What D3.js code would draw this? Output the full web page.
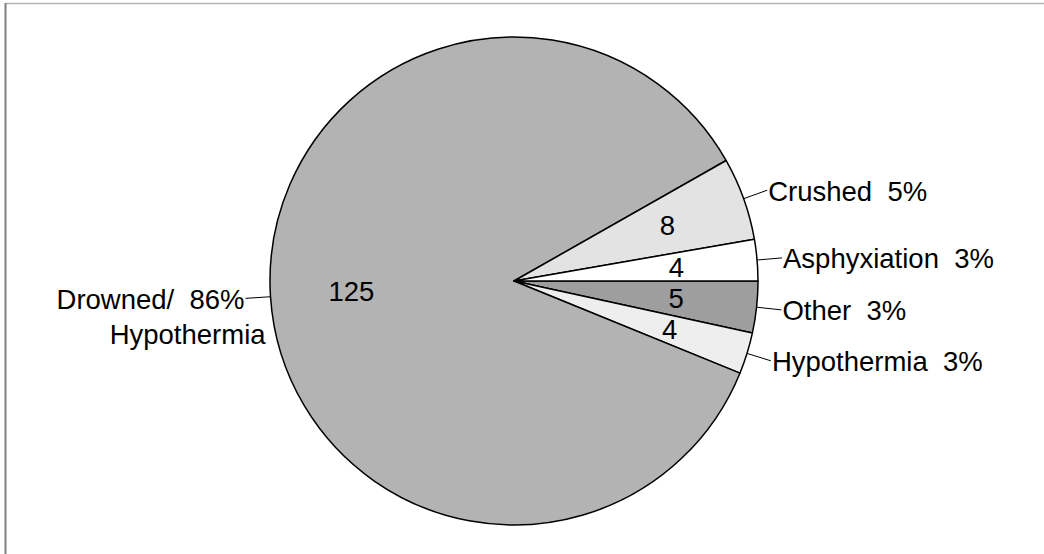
<!DOCTYPE html>
<html>
<head>
<meta charset="utf-8">
<script src="https://cdn.jsdelivr.net/npm/d3@7"></script>
<style>
  html, body { margin: 0; padding: 0; background: #fff; }
  svg { display: block; }
  text { font-family: "Liberation Sans", Arial, sans-serif; fill: #000; }
</style>
</head>
<body>
<svg id="chart" width="1044" height="554"></svg>
<script>
// Causes of death, in clockwise order from 3 o'clock
const categories = ["Other", "Hypothermia", "Drowned/ Hypothermia", "Crushed", "Asphyxiation"];
const deaths = [5, 4, 125, 8, 4];
const sliceColors = ["#9e9e9e", "#eeeeee", "#b3b3b3", "#e3e3e3", "#ffffff"];
// Outside labels, split into lines where the category wraps
const labelLines = [["Other"], ["Hypothermia"], ["Drowned/", "Hypothermia"], ["Crushed"], ["Asphyxiation"]];

const svg = d3.select("#chart");
const W = 1044, H = 554;
const cx = 514, cy = 281, R = 244;
const fontSize = 27.5;

// frame edges
svg.append("line").attr("x1", 6).attr("x2", W).attr("y1", 3.5).attr("y2", 3.5)
  .attr("stroke", "#b4b4b4").attr("stroke-width", 1.5);
svg.append("line").attr("x1", 5.5).attr("x2", 5.5).attr("y1", 3).attr("y2", H)
  .attr("stroke", "#808080").attr("stroke-width", 2);

const total = d3.sum(deaths);
const data = categories.map((c, i) => ({ cat: c, value: deaths[i], color: sliceColors[i], lines: labelLines[i] }));

const pie = d3.pie().value(d => d.value).sort(null)
  .startAngle(Math.PI / 2).endAngle(Math.PI / 2 + 2 * Math.PI);
const arcs = pie(data);

const arc = d3.arc().innerRadius(0).outerRadius(R);
const g = svg.append("g").attr("transform", `translate(${cx},${cy})`);

g.selectAll("path.slice").data(arcs).enter().append("path")
  .attr("class", "slice")
  .attr("d", arc)
  .attr("fill", d => d.data.color)
  .attr("stroke", "#000")
  .attr("stroke-width", 1.5)
  .attr("stroke-linejoin", "round");

const mid = d => (d.startAngle + d.endAngle) / 2;
const polar = (a, r) => [r * Math.sin(a), -r * Math.cos(a)];

// values inside slices
const valueR = 163;
g.selectAll("text.val").data(arcs).enter().append("text")
  .attr("class", "val")
  .attr("x", d => polar(mid(d), valueR)[0])
  .attr("y", d => polar(mid(d), valueR)[1])
  .attr("text-anchor", "middle")
  .attr("dominant-baseline", "central")
  .attr("font-size", fontSize)
  .text(d => d.data.value);

// leader lines and outside labels
const leadR = R + 25;
const fmtPct = v => Math.round(v / total * 100) + "%";

arcs.forEach(d => {
  const a = mid(d);
  const p0 = polar(a, R), p1 = polar(a, leadR);
  g.append("line")
    .attr("x1", p0[0]).attr("y1", p0[1])
    .attr("x2", p1[0]).attr("y2", p1[1])
    .attr("stroke", "#000").attr("stroke-width", 1);
  const right = Math.sin(a) >= 0;
  const pct = fmtPct(d.data.value);
  if (d.data.lines.length === 1) {
    g.append("text")
      .attr("x", p1[0] + (right ? 1 : -1))
      .attr("y", p1[1] + 1)
      .attr("text-anchor", right ? "start" : "end")
      .attr("dominant-baseline", "central")
      .attr("font-size", fontSize)
      .style("white-space", "pre")
      .text(d.data.lines[0] + "  " + pct);
  } else {
    const t = g.append("text")
      .attr("text-anchor", "end")
      .attr("font-size", fontSize)
      .style("white-space", "pre");
    t.append("tspan")
      .attr("x", p1[0] - 1)
      .attr("y", p1[1] + 1)
      .attr("dominant-baseline", "central")
      .text(d.data.lines[0] + "  " + pct);
    t.append("tspan")
      .attr("x", p1[0] + 20)
      .attr("y", p1[1] + 36)
      .attr("dominant-baseline", "central")
      .text(d.data.lines[1]);
  }
});
</script>
</body>
</html>
